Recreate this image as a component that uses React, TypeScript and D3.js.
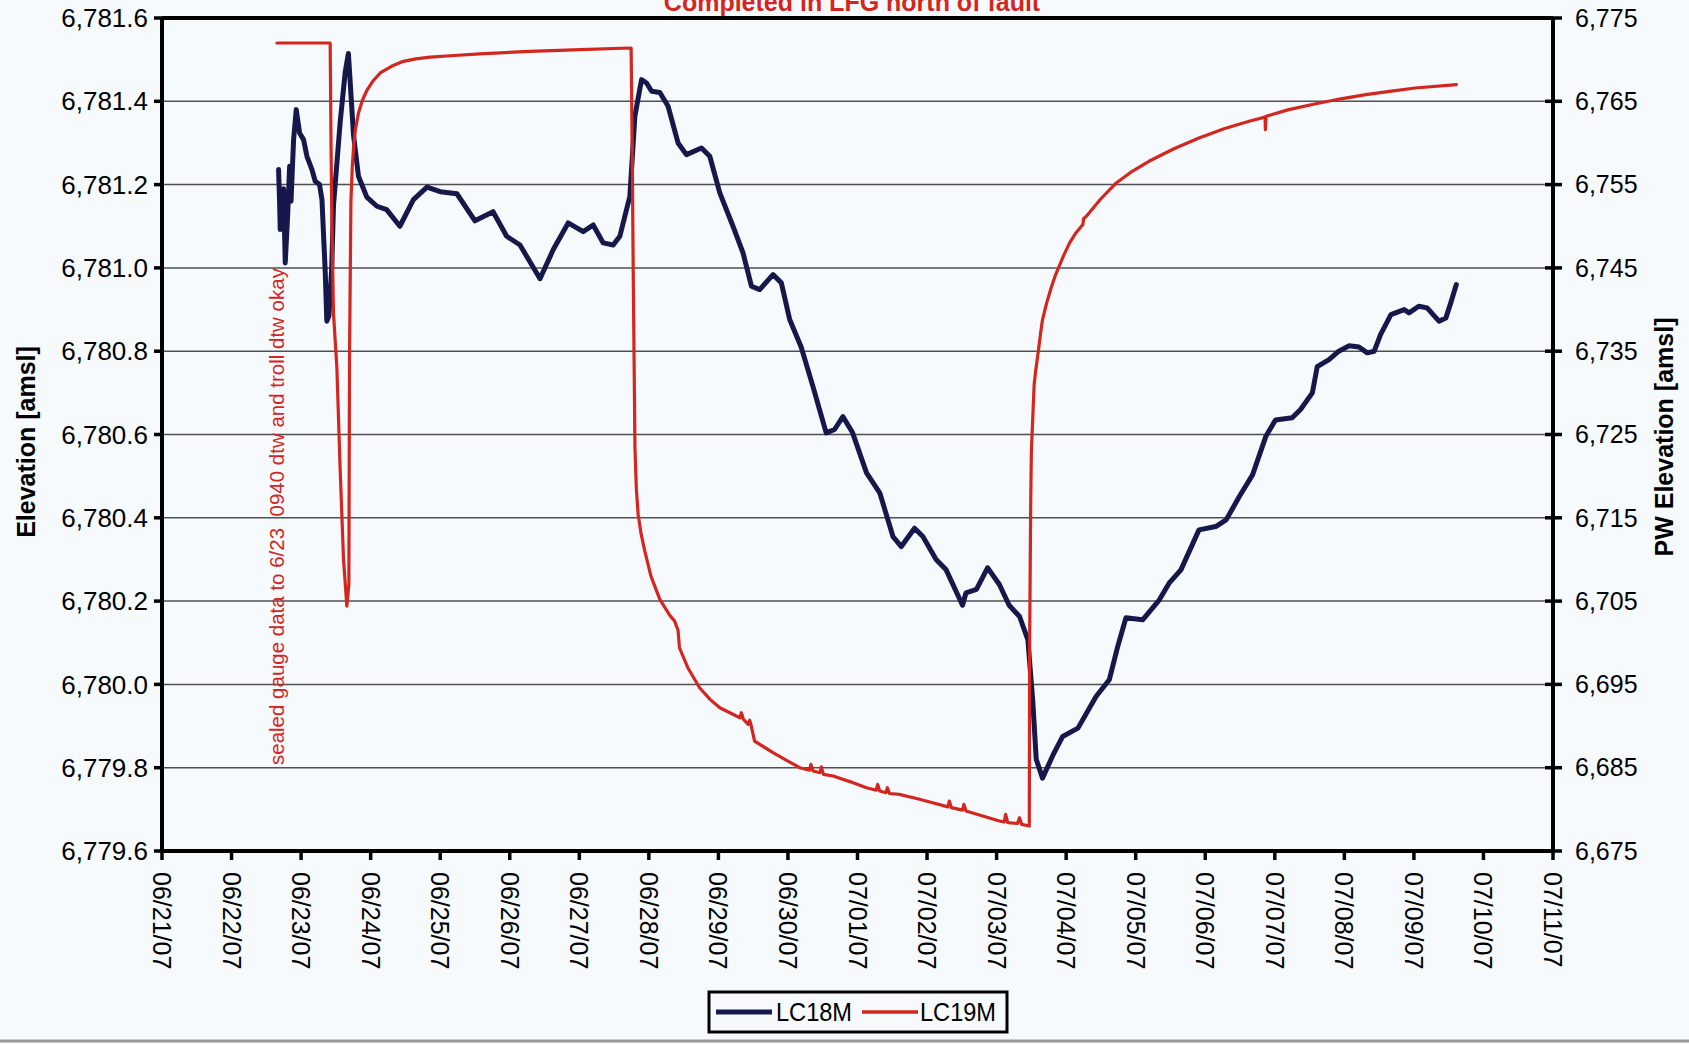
import React from "react";
import * as d3 from "d3";

// ---------- data ----------
const startDate = new Date(2007, 5, 21);
const endDate = new Date(2007, 6, 11);

const xTickLabels = [
  "06/21/07", "06/22/07", "06/23/07", "06/24/07", "06/25/07", "06/26/07", "06/27/07",
  "06/28/07", "06/29/07", "06/30/07", "07/01/07", "07/02/07", "07/03/07", "07/04/07",
  "07/05/07", "07/06/07", "07/07/07", "07/08/07", "07/09/07", "07/10/07", "07/11/07",
];

const leftTicks = [6779.6, 6779.8, 6780.0, 6780.2, 6780.4, 6780.6, 6780.8, 6781.0, 6781.2, 6781.4, 6781.6];
const rightTicks = [6675, 6685, 6695, 6705, 6715, 6725, 6735, 6745, 6755, 6765, 6775];

// [days since 06/21/07 00:00, elevation]
const lc18m: [number, number][] = [
  [1.676, 6781.236], [1.69, 6781.164], [1.70, 6781.092], [1.748, 6781.19], [1.772, 6781.012],
  [1.806, 6781.124], [1.835, 6781.244], [1.855, 6781.16], [1.892, 6781.308], [1.93, 6781.38],
  [1.978, 6781.324], [2.035, 6781.308], [2.084, 6781.268], [2.156, 6781.236], [2.203, 6781.208],
  [2.265, 6781.2], [2.30, 6781.164], [2.347, 6780.99], [2.37, 6780.872], [2.40, 6780.885],
  [2.44, 6781.0], [2.466, 6781.15], [2.562, 6781.35], [2.634, 6781.47], [2.68, 6781.515],
  [2.753, 6781.32], [2.825, 6781.22], [2.945, 6781.17], [3.09, 6781.148], [3.23, 6781.14],
  [3.42, 6781.10], [3.615, 6781.164], [3.81, 6781.194], [4.0, 6781.183], [4.24, 6781.178],
  [4.50, 6781.113], [4.76, 6781.135], [4.956, 6781.076], [5.147, 6781.055], [5.435, 6780.974],
  [5.626, 6781.044], [5.84, 6781.108], [6.056, 6781.087], [6.2, 6781.103], [6.344, 6781.06],
  [6.487, 6781.055], [6.583, 6781.076], [6.727, 6781.172], [6.799, 6781.364], [6.895, 6781.452],
  [6.967, 6781.444], [7.04, 6781.424], [7.158, 6781.421], [7.277, 6781.388], [7.42, 6781.30],
  [7.54, 6781.272], [7.757, 6781.288], [7.876, 6781.268], [8.02, 6781.18], [8.21, 6781.10],
  [8.354, 6781.036], [8.475, 6780.956], [8.594, 6780.948], [8.785, 6780.984], [8.905, 6780.964],
  [9.025, 6780.876], [9.19, 6780.81], [9.36, 6780.715], [9.55, 6780.604], [9.67, 6780.612],
  [9.79, 6780.643], [9.93, 6780.604], [10.13, 6780.508], [10.32, 6780.46], [10.51, 6780.355],
  [10.63, 6780.331], [10.82, 6780.375], [10.94, 6780.355], [11.13, 6780.30], [11.275, 6780.275],
  [11.51, 6780.19], [11.56, 6780.22], [11.71, 6780.228], [11.87, 6780.28], [12.04, 6780.24],
  [12.18, 6780.19], [12.33, 6780.163], [12.45, 6780.107], [12.52, 6779.96], [12.57, 6779.82],
  [12.66, 6779.775], [12.81, 6779.83], [12.95, 6779.875], [13.17, 6779.895], [13.43, 6779.971],
  [13.62, 6780.011], [13.74, 6780.09], [13.86, 6780.16], [14.10, 6780.155], [14.34, 6780.203],
  [14.48, 6780.243], [14.65, 6780.275], [14.91, 6780.371], [15.15, 6780.379], [15.30, 6780.395],
  [15.49, 6780.451], [15.68, 6780.503], [15.87, 6780.595], [16.01, 6780.635], [16.25, 6780.64],
  [16.37, 6780.66], [16.54, 6780.70], [16.61, 6780.763], [16.78, 6780.78], [16.92, 6780.80],
  [17.07, 6780.813], [17.21, 6780.81], [17.33, 6780.796], [17.43, 6780.80], [17.52, 6780.84],
  [17.67, 6780.888], [17.86, 6780.90], [17.93, 6780.892], [18.07, 6780.908], [18.19, 6780.904],
  [18.36, 6780.872], [18.46, 6780.88], [18.53, 6780.916], [18.61, 6780.96],
];

// [days since 06/21/07 00:00, PW elevation]
const lc19m: [number, number][] = [
  [1.653, 6772.0], [2.418, 6772.0], [2.43, 6760.0], [2.443, 6750.2], [2.466, 6739.5],
  [2.514, 6733.1], [2.562, 6720.7], [2.61, 6710.0], [2.658, 6704.4], [2.687, 6707.0],
  [2.696, 6734.1], [2.716, 6752.9], [2.735, 6757.0], [2.753, 6759.3], [2.78, 6761.6],
  [2.825, 6763.6], [2.88, 6765.1], [2.945, 6766.3], [3.04, 6767.5], [3.137, 6768.4],
  [3.3, 6769.2], [3.47, 6769.8], [3.65, 6770.1], [3.855, 6770.3], [4.2, 6770.5],
  [4.57, 6770.7], [5.29, 6771.0], [6.01, 6771.2], [6.727, 6771.4], [6.745, 6771.4],
  [6.76, 6760.0], [6.775, 6744.8], [6.80, 6723.5], [6.82, 6718.5], [6.846, 6715.4],
  [6.89, 6713.0], [6.942, 6711.0], [7.03, 6708.0], [7.158, 6705.2], [7.30, 6703.3],
  [7.37, 6702.6], [7.42, 6701.5], [7.44, 6699.4], [7.56, 6697.0], [7.73, 6694.6],
  [7.88, 6693.2], [8.02, 6692.2], [8.31, 6691.0], [8.33, 6691.6], [8.36, 6690.8],
  [8.43, 6690.2], [8.45, 6690.7], [8.47, 6690.1], [8.52, 6688.2], [8.785, 6686.8],
  [9.0, 6685.8], [9.17, 6685.0], [9.31, 6684.7], [9.33, 6685.4], [9.36, 6684.6],
  [9.46, 6684.4], [9.48, 6685.1], [9.51, 6684.2], [9.65, 6684.0], [9.9, 6683.3],
  [10.13, 6682.6], [10.27, 6682.3], [10.29, 6683.0], [10.32, 6682.2], [10.41, 6682.0],
  [10.43, 6682.6], [10.46, 6681.9], [10.6, 6681.8], [10.85, 6681.3], [11.08, 6680.8],
  [11.30, 6680.3], [11.32, 6681.0], [11.35, 6680.2], [11.51, 6679.9], [11.53, 6680.6],
  [11.56, 6679.8], [11.8, 6679.2], [12.04, 6678.6], [12.11, 6678.5], [12.13, 6679.4],
  [12.16, 6678.4], [12.30, 6678.3], [12.33, 6679.0], [12.36, 6678.2], [12.47, 6678.0],
  [12.475, 6700.0], [12.49, 6716.6], [12.50, 6723.0], [12.54, 6731.0], [12.56, 6732.5],
  [12.60, 6735.0], [12.63, 6737.0], [12.66, 6738.8], [12.72, 6740.8], [12.78, 6742.5],
  [12.84, 6744.0], [12.90, 6745.2], [12.97, 6746.6], [13.05, 6748.0], [13.14, 6749.2],
  [13.24, 6750.2], [13.25, 6750.9], [13.29, 6751.2], [13.5, 6753.3], [13.72, 6755.2],
  [13.95, 6756.6], [14.19, 6757.8], [14.55, 6759.3], [14.91, 6760.6], [15.27, 6761.7],
  [15.63, 6762.6], [15.86, 6763.1], [15.865, 6761.6], [15.875, 6763.2], [16.2, 6764.0],
  [16.59, 6764.7], [16.95, 6765.3], [17.31, 6765.8], [17.65, 6766.2], [18.02, 6766.6],
  [18.61, 6767.0],
];

const seriesNames = ["LC18M", "LC19M"];
const titleText = "Completed in LFG north of fault";
const noteText = "sealed gauge data to 6/23  0940 dtw and troll dtw okay";

// ---------- layout ----------
const W = 1689;
const H = 1044;
const left = 162;
const right = 1553;
const top = 18;
const bottom = 851;
const FONT = "'Liberation Sans', Arial, Helvetica, sans-serif";
const NAVY = "#16184c";
const RED = "#d3261f";
const BG = "#f6fafc";

const dayMs = 24 * 3600 * 1000;
const toDate = (d: number) => new Date(startDate.getTime() + d * dayMs);

export default function App() {
  const x = d3.scaleTime().domain([startDate, endDate]).range([left, right]);
  const yL = d3.scaleLinear().domain([6779.6, 6781.6]).range([bottom, top]);
  const yR = d3.scaleLinear().domain([6675, 6775]).range([bottom, top]);

  const lineL = d3
    .line<[number, number]>()
    .x((d) => x(toDate(d[0])))
    .y((d) => yL(d[1]));
  const lineR = d3
    .line<[number, number]>()
    .x((d) => x(toDate(d[0])))
    .y((d) => yR(d[1]));

  const fmtL = d3.format(",.1f");
  const fmtR = d3.format(",.0f");

  return (
    <svg
      width={W}
      height={H}
      style={{ position: "absolute", left: 0, top: 0, background: BG }}
      fontFamily={FONT}
    >
      <rect x={0} y={0} width={W} height={H} fill={BG} />

      {/* title (clipped at top, as in the original) */}
      <text x={852} y={11} textAnchor="middle" fontSize={25} fontWeight="bold" fill={RED}>
        {titleText}
      </text>

      {/* gridlines */}
      {leftTicks.map((t) => (
        <line key={"g" + t} x1={left} x2={right} y1={yL(t)} y2={yL(t)} stroke="#505050" strokeWidth={1.5} />
      ))}

      {/* left ticks & labels */}
      {leftTicks.map((t) => (
        <g key={"l" + t}>
          <line x1={left - 8} x2={left} y1={yL(t)} y2={yL(t)} stroke="#000" strokeWidth={3.5} />
          <text x={148} y={yL(t)} dy="0.35em" textAnchor="end" fontSize={26} fill="#000">
            {fmtL(t)}
          </text>
        </g>
      ))}

      {/* right ticks & labels */}
      {rightTicks.map((t) => (
        <g key={"r" + t}>
          <line x1={right - 8} x2={right + 9} y1={yR(t)} y2={yR(t)} stroke="#000" strokeWidth={3.5} />
          <text x={1575} y={yR(t)} dy="0.35em" textAnchor="start" fontSize={25} fill="#000">
            {fmtR(t)}
          </text>
        </g>
      ))}

      {/* x ticks & labels */}
      {xTickLabels.map((lab, i) => {
        const px = x(toDate(i));
        return (
          <g key={"x" + i}>
            <line x1={px} x2={px} y1={bottom} y2={bottom + 9} stroke="#000" strokeWidth={3.5} />
            <text
              transform={`translate(${px},${872}) rotate(90)`}
              textAnchor="start"
              dominantBaseline="central"
              fontSize={25}
              fill="#000"
            >
              {lab}
            </text>
          </g>
        );
      })}

      {/* series */}
      <path d={lineL(lc18m) || ""} fill="none" stroke={NAVY} strokeWidth={5} strokeLinejoin="round" strokeLinecap="round" />
      <path d={lineR(lc19m) || ""} fill="none" stroke={RED} strokeWidth={3.2} strokeLinejoin="round" strokeLinecap="round" />

      {/* plot frame */}
      <line x1={left} x2={right} y1={top} y2={top} stroke="#000" strokeWidth={4} />
      <line x1={left} x2={right} y1={bottom} y2={bottom} stroke="#000" strokeWidth={4} />
      <line x1={left} x2={left} y1={top} y2={bottom} stroke="#000" strokeWidth={4} />
      <line x1={right} x2={right} y1={top} y2={bottom} stroke="#000" strokeWidth={4} />

      {/* annotation */}
      <text
        transform={`translate(284,765) rotate(-90)`}
        textAnchor="start"
        fontSize={20.5}
        fill={RED}
        style={{ whiteSpace: "pre" }}
      >
        {noteText}
      </text>

      {/* axis titles */}
      <text transform={`translate(35,442) rotate(-90)`} textAnchor="middle" fontSize={25} fontWeight="bold" fill="#000">
        Elevation [amsl]
      </text>
      <text transform={`translate(1673,437) rotate(-90)`} textAnchor="middle" fontSize={25} fontWeight="bold" fill="#000">
        PW Elevation [amsl]
      </text>

      {/* legend */}
      <rect x={709} y={992} width={298} height={40} fill={BG} stroke="#000" strokeWidth={3} />
      <line x1={716} x2={772} y1={1012} y2={1012} stroke={NAVY} strokeWidth={5} />
      <text x={776} y={1021} fontSize={26} textLength={76} lengthAdjust="spacingAndGlyphs" fill="#000">
        {seriesNames[0]}
      </text>
      <line x1={862} x2={918} y1={1012} y2={1012} stroke={RED} strokeWidth={3.5} />
      <text x={920} y={1021} fontSize={26} textLength={76} lengthAdjust="spacingAndGlyphs" fill="#000">
        {seriesNames[1]}
      </text>

      {/* scan edge */}
      <line x1={0} x2={W} y1={1041} y2={1041} stroke="#9a9a9a" strokeWidth={3} />
    </svg>
  );
}
